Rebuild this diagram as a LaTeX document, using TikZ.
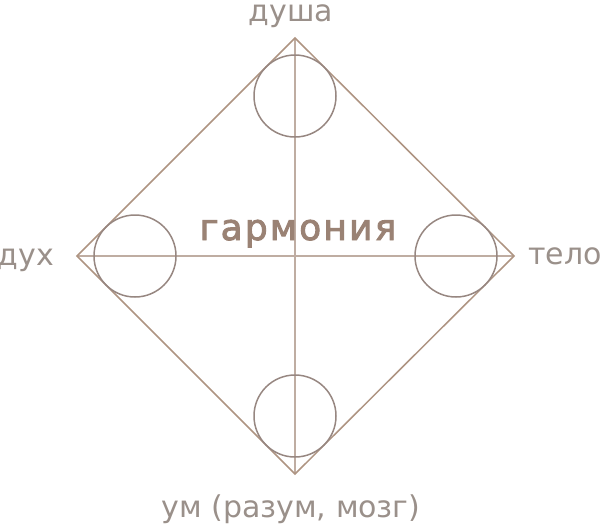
\documentclass[tikz,border=0pt]{standalone}
\usepackage{fontspec}
\setmainfont{DejaVu Sans}
\newfontfamily\titlefont{DejaVu Sans}[FakeBold=2.6,LetterSpace=6]
\usepackage{xcolor}
\definecolor{frame}{HTML}{AE9482}
\definecolor{axis}{HTML}{BFADA2}
\definecolor{ring}{HTML}{978781}
\definecolor{txt}{HTML}{9A908A}
\definecolor{title}{HTML}{9A8274}

\begin{document}
\begin{tikzpicture}[x=1pt,y=-1pt]
\tikzset{word/.style={txt,font=\fontsize{30}{30}\selectfont,inner sep=0pt}}
\useasboundingbox (0,0) rectangle (600,523);
\coordinate (top) at (295,38);
\coordinate (left) at (77,256);
\coordinate (right) at (514,256);
\coordinate (bottom) at (295,474);
\draw[axis,line width=1.2pt] (top) -- (bottom);
\draw[axis,line width=1.2pt] (left) -- (right);
\draw[frame,line width=1.5pt] (top) -- (right) -- (bottom) -- (left) -- cycle;
\foreach \c/\x/\y in {ctop/295/96,cleft/135/256,cright/456/256,cbottom/295/416} {
	\draw[ring,line width=1.5pt] (\x,\y) circle (41);
}
\node[word,anchor=base] (soul) at (291,21) {душа};
\node[word,anchor=base east] (spirit) at (54,265) {дух};
\node[word,anchor=base west] (body) at (528,264) {тело};
\node[word,anchor=base] (mind) at (291,517) {ум (разум, мозг)};
\node[title,font=\fontsize{36}{36}\titlefont,anchor=base,inner sep=0pt] (harmony) at (298,240) {гармония};
\end{tikzpicture}
\end{document}
